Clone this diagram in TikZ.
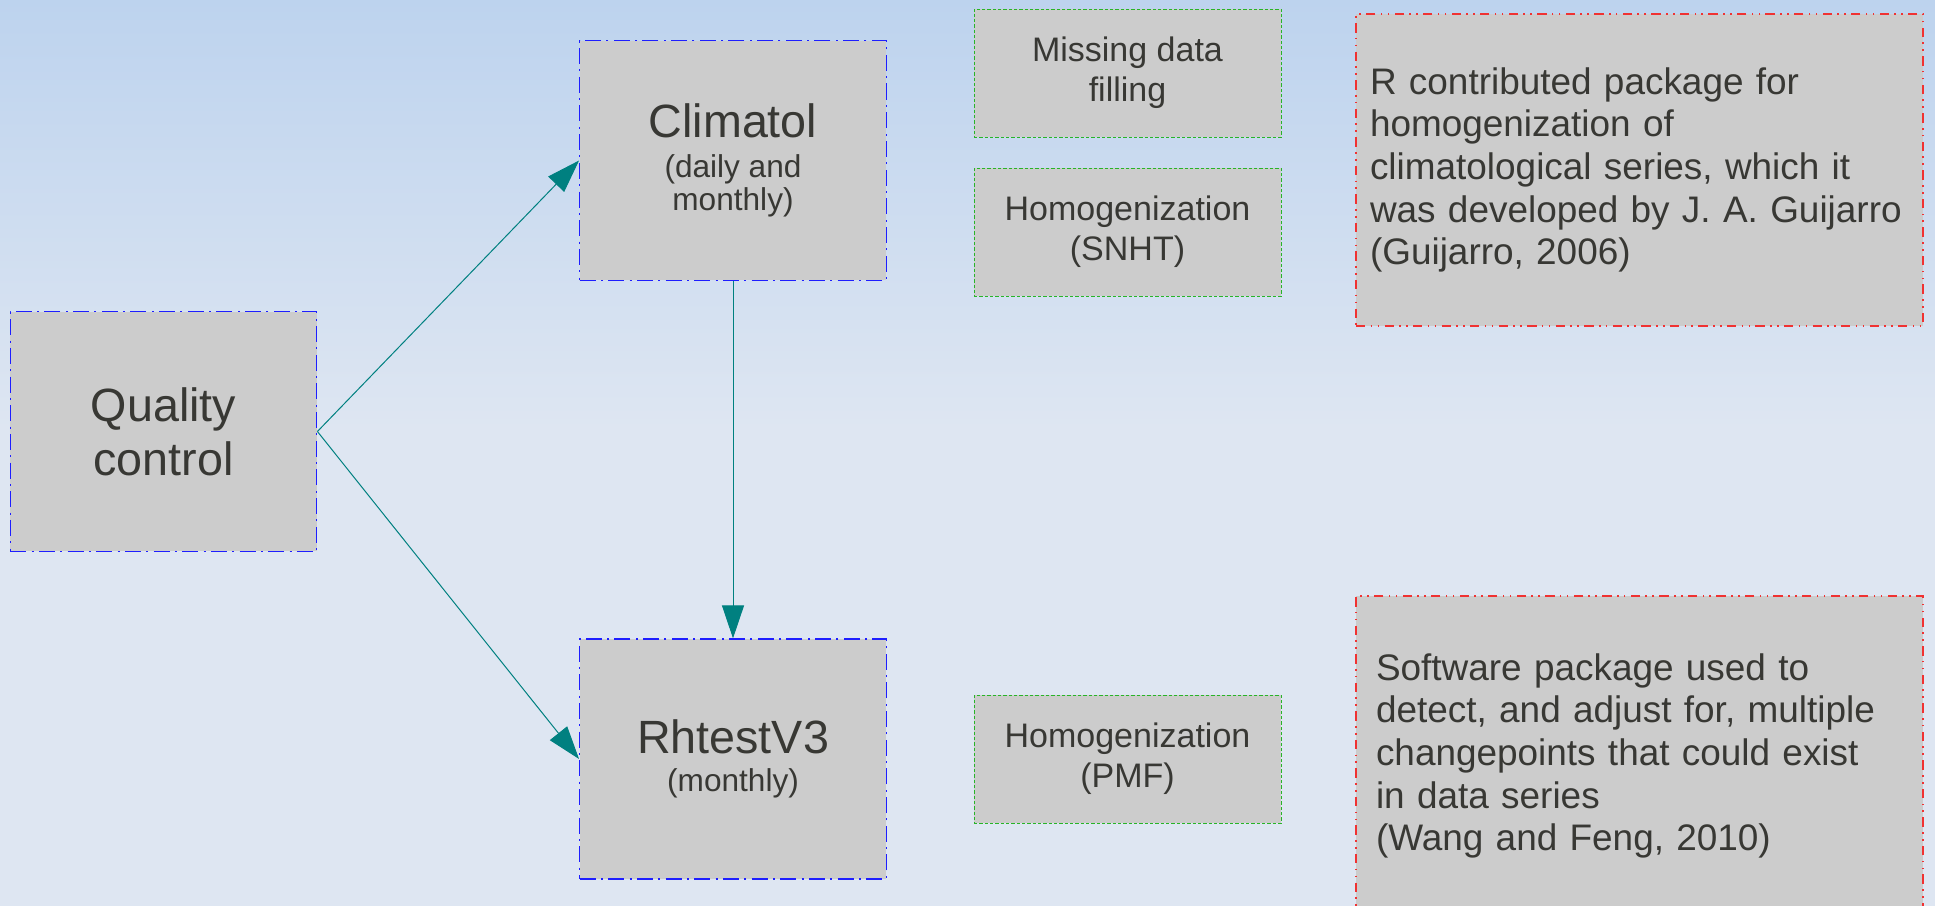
\documentclass[tikz,border=0pt]{standalone}
\usepackage{fontspec}
\setmainfont{Liberation Sans}
\usepackage{tikz}
\usetikzlibrary{arrows.meta}
\definecolor{bgtop}{RGB}{189,211,238}
\definecolor{bgbot}{RGB}{222,230,242}
\definecolor{boxgray}{RGB}{204,204,204}
\definecolor{txtgray}{RGB}{56,56,52}
\definecolor{lineblue}{RGB}{30,30,255}
\definecolor{linegreen}{RGB}{40,180,40}
\definecolor{linered}{RGB}{240,50,50}
\definecolor{arrowteal}{RGB}{0,128,128}
\newcommand{\titlesize}{\fontsize{35}{40}\selectfont}
\newcommand{\subsize}{\fontsize{23.7}{24.75}\selectfont}

\begin{document}
\begin{tikzpicture}[x=0.75pt, y=-0.75pt,
	toolbox/.style={draw=lineblue, fill=boxgray, text=txtgray, align=center,
		line width=0.9pt, dash pattern=on 12pt off 4pt on 1.5pt off 4pt,
		minimum width=230pt, minimum height=179.5pt, inner sep=0pt},
	taskbox/.style={draw=linegreen, fill=boxgray, text=txtgray, align=center,
		dash pattern=on 2.5pt off 1.5pt,
		minimum width=230.25pt, minimum height=96pt, inner sep=0pt,
		font=\fontsize{25.5}{30}\selectfont},
	notebox/.style={draw=linered, fill=boxgray, text=txtgray, align=left,
		line width=0.9pt, dash pattern=on 7pt off 4pt on 1.2pt off 4pt on 1.2pt off 4pt,
		inner xsep=10.5pt, text width=404.25pt,
		font=\fontsize{27.7}{32}\selectfont},
	link/.style={arrowteal, line width=0.75pt, -{Triangle[length=24.75pt, width=16.5pt]}}]
	\useasboundingbox (0,0) rectangle (1935,906);
	\clip (0,0) rectangle (1935,906);
	% background
	\fill[top color=bgtop, bottom color=bgbot] (0,0) rectangle (1935,430);
	\fill[bgbot] (0,429) rectangle (1935,906);

	% tools
	\node[toolbox, font=\fontsize{35}{40.5}\selectfont] (quality) at (163.5,431.5) {Quality\\ control};
	\node[toolbox, font=\subsize] (climatol) at (733,160.5)
		{{\titlesize Climatol}\\[5.25pt] (daily and\\ monthly)};
	\node[toolbox, font=\subsize, minimum height=180pt] (rhtest) at (733,759)
		{{\titlesize RhtestV3}\\[3.25pt] (monthly)};

	% tasks
	\node[taskbox] (filling) at (1127.5,73) {Missing data\\ filling};
	\node[taskbox] (snht) at (1127.5,232) {Homogenization\\ (SNHT)};
	\node[taskbox] (pmf) at (1127.5,759) {Homogenization\\ (PMF)};

	% notes
	\node[notebox, minimum height=234pt] (climatolnote) at (1639.5,170) {R contributed package for\\
		homogenization of\\ climatological series, which it\\ was developed by J. A. Guijarro\\ (Guijarro, 2006)};
	\node[notebox, minimum height=240pt, inner xsep=15pt, text width=395.25pt] (rhtestnote) at (1639.5,756) {Software package used to\\
		detect, and adjust for, multiple\\ changepoints that could exist\\ in data series\\ (Wang and Feng, 2010)};

	% arrows
	\draw[link] (quality.east) -- (climatol.west);
	\draw[link] (quality.east) -- (rhtest.west);
	\draw[link] (climatol.south) -- (rhtest.north);
\end{tikzpicture}
\end{document}
